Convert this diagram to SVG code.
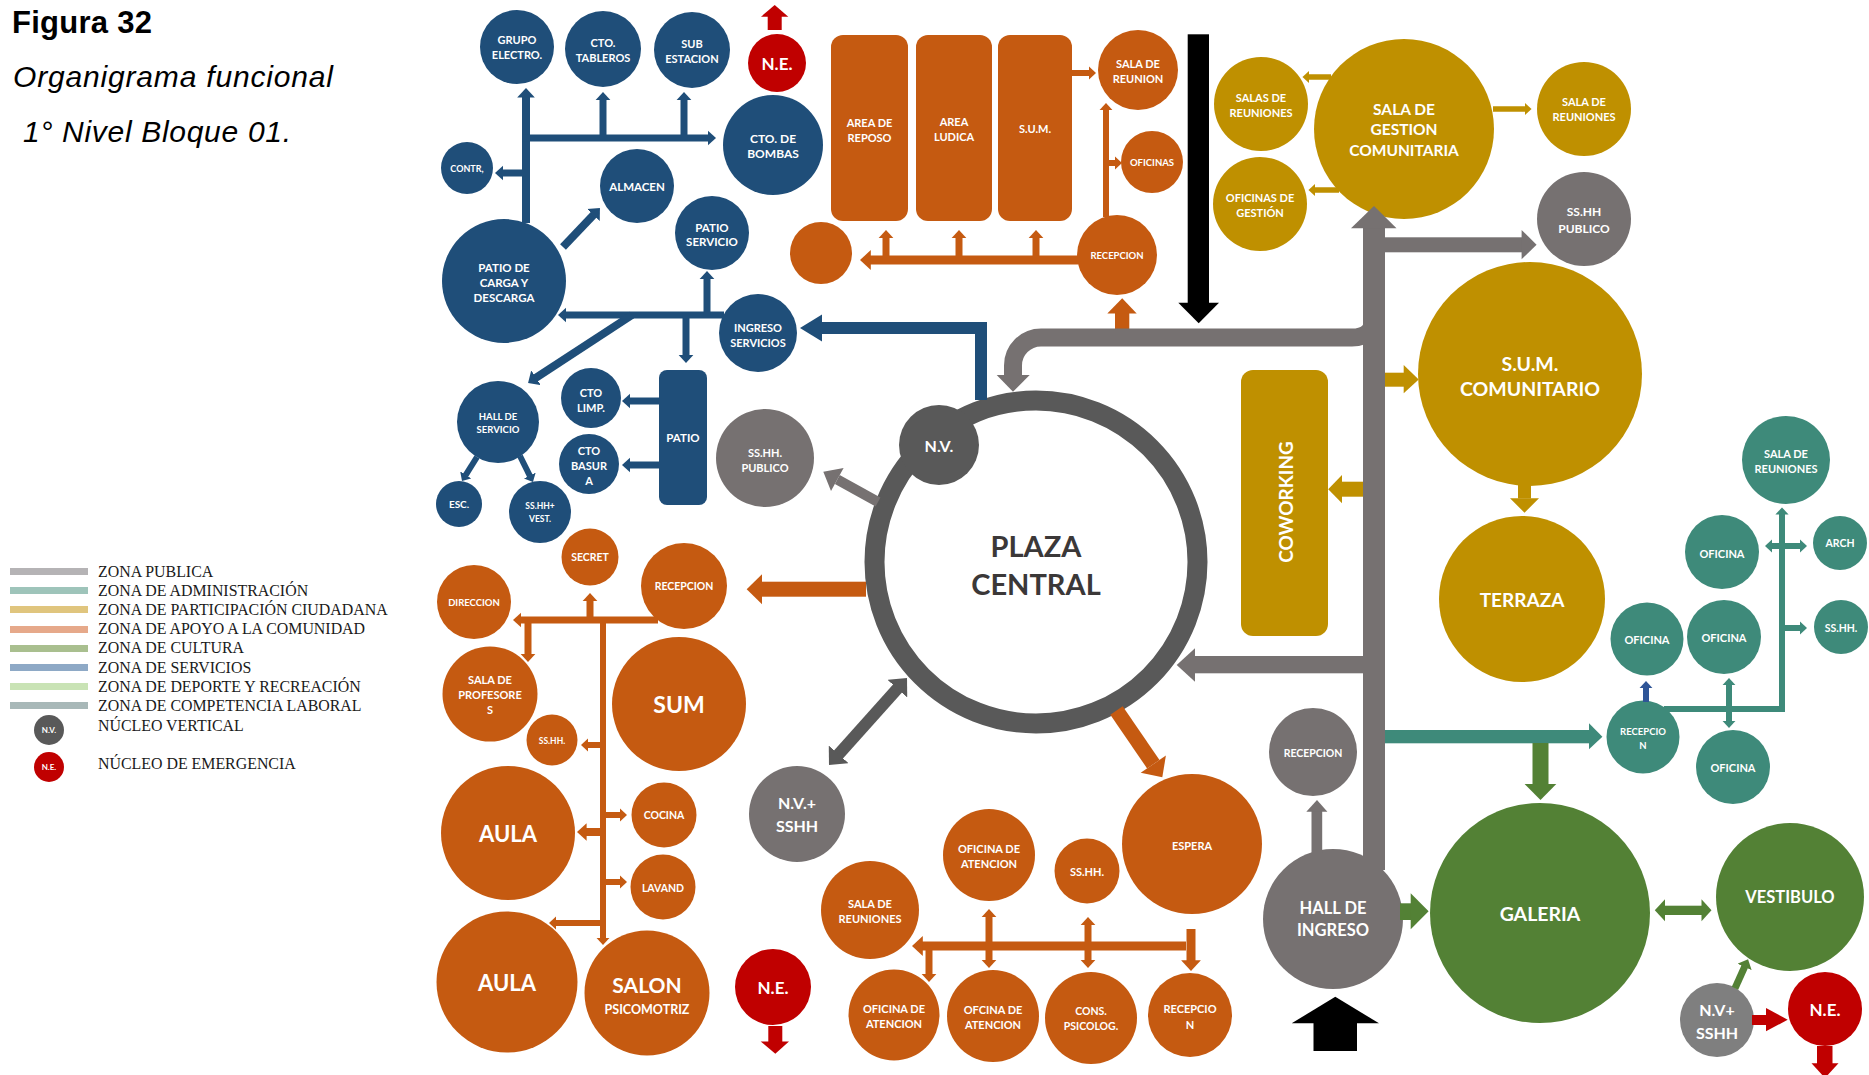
<svg xmlns="http://www.w3.org/2000/svg" width="1869" height="1075" viewBox="0 0 1869 1075">
<style>
.b{fill:#1F4E79}.o{fill:#C55A11}.y{fill:#BF9000}.t{fill:#3E8A7A}.g{fill:#538135}.gr{fill:#767171}.dg{fill:#595959}.r{fill:#C00000}.lg{fill:#7F7F7F}.k{fill:#000}
.l{font-family:Lato,"Open Sans","Liberation Sans",sans-serif;font-weight:700;fill:#fff;text-anchor:middle;dominant-baseline:central}
.sb{stroke:#1F4E79;fill:none}.so{stroke:#C55A11;fill:none}.sy{stroke:#BF9000;fill:none}.st{stroke:#3E8A7A;fill:none}.sg{stroke:#538135;fill:none}.sgr{stroke:#767171;fill:none}.sdg{stroke:#595959;fill:none}.snb{stroke:#2F5597;fill:none}
.lgd{font-family:"Liberation Serif","Times New Roman",serif;font-size:15.9px;fill:#1a1a1a}
.ttl{font-family:"Liberation Sans",Arial,sans-serif;fill:#000}
</style>
<defs>
<marker id="mB" viewBox="0 0 12 22" refX="1" refY="11" markerWidth="1.2" markerHeight="2.2" markerUnits="strokeWidth" orient="auto-start-reverse"><path d="M0,0L12,11L0,22z" fill="#1F4E79"/></marker>
<marker id="mO" viewBox="0 0 12 22" refX="1" refY="11" markerWidth="1.2" markerHeight="2.2" markerUnits="strokeWidth" orient="auto-start-reverse"><path d="M0,0L12,11L0,22z" fill="#C55A11"/></marker>
<marker id="mY" viewBox="0 0 12 22" refX="1" refY="11" markerWidth="1.2" markerHeight="2.2" markerUnits="strokeWidth" orient="auto-start-reverse"><path d="M0,0L12,11L0,22z" fill="#BF9000"/></marker>
<marker id="mT" viewBox="0 0 12 22" refX="1" refY="11" markerWidth="1.2" markerHeight="2.2" markerUnits="strokeWidth" orient="auto-start-reverse"><path d="M0,0L12,11L0,22z" fill="#3E8A7A"/></marker>
<marker id="mG" viewBox="0 0 12 22" refX="1" refY="11" markerWidth="1.2" markerHeight="2.2" markerUnits="strokeWidth" orient="auto-start-reverse"><path d="M0,0L12,11L0,22z" fill="#538135"/></marker>
<marker id="mDg" viewBox="0 0 12 22" refX="1" refY="11" markerWidth="1.2" markerHeight="2.2" markerUnits="strokeWidth" orient="auto-start-reverse"><path d="M0,0L12,11L0,22z" fill="#595959"/></marker>
<marker id="mNb" viewBox="0 0 12 22" refX="1" refY="11" markerWidth="1.2" markerHeight="2.2" markerUnits="strokeWidth" orient="auto-start-reverse"><path d="M0,0L12,11L0,22z" fill="#2F5597"/></marker>
</defs>

<g id="title">
<text class="ttl" x="12" y="33" font-size="31" font-weight="700" textLength="140">Figura 32</text>
<text class="ttl" x="13" y="87" font-size="30" font-style="italic" textLength="320">Organigrama funcional</text>
<text class="ttl" x="23" y="142" font-size="30" font-style="italic" textLength="268">1° Nivel Bloque 01.</text>
</g>

<g id="legend">
<rect x="10" y="568" width="78" height="7" fill="#B5B3B5"/>
<rect x="10" y="587" width="78" height="7" fill="#9EC4BA"/>
<rect x="10" y="606" width="78" height="7" fill="#E0C57E"/>
<rect x="10" y="626" width="78" height="7" fill="#E6A98A"/>
<rect x="10" y="645" width="78" height="7" fill="#A9BF8F"/>
<rect x="10" y="664" width="78" height="7" fill="#8EA9C6"/>
<rect x="10" y="683" width="78" height="7" fill="#C9E3B5"/>
<rect x="10" y="702" width="78" height="7" fill="#A8B8B8"/>
<text class="lgd" x="98" y="577">ZONA PUBLICA</text>
<text class="lgd" x="98" y="596">ZONA DE ADMINISTRACIÓN</text>
<text class="lgd" x="98" y="615">ZONA DE PARTICIPACIÓN CIUDADANA</text>
<text class="lgd" x="98" y="634">ZONA DE APOYO A LA COMUNIDAD</text>
<text class="lgd" x="98" y="653">ZONA DE CULTURA</text>
<text class="lgd" x="98" y="673">ZONA DE SERVICIOS</text>
<text class="lgd" x="98" y="692">ZONA DE DEPORTE Y RECREACIÓN</text>
<text class="lgd" x="98" y="711">ZONA DE COMPETENCIA LABORAL</text>
<circle class="dg" cx="49" cy="730" r="15"/>
<text class="l" x="49" y="730" font-size="8">N.V.</text>
<text class="lgd" x="98" y="730.5">NÚCLEO VERTICAL</text>
<circle class="r" cx="49" cy="767" r="15"/>
<text class="l" x="49" y="767" font-size="8">N.E.</text>
<text class="lgd" x="98" y="768.5">NÚCLEO DE EMERGENCIA</text>
</g>

<!-- SERVICIOS (blue) -->
<g id="grupo-electro"><circle class="b" cx="517" cy="47" r="37"/><text class="l" font-size="11"><tspan x="517" y="39">GRUPO</tspan><tspan x="517" y="54">ELECTRO.</tspan></text></g>
<g id="cto-tableros"><circle class="b" cx="603" cy="49" r="38"/><text class="l" font-size="11"><tspan x="603" y="41.5">CTO.</tspan><tspan x="603" y="56.5">TABLEROS</tspan></text></g>
<g id="sub-estacion"><circle class="b" cx="692" cy="50" r="38"/><text class="l" font-size="11"><tspan x="692" y="42.5">SUB</tspan><tspan x="692" y="57.5">ESTACION</tspan></text></g>
<g id="cto-bombas"><circle class="b" cx="773" cy="145" r="50"/><text class="l" font-size="12"><tspan x="773" y="137.5">CTO. DE</tspan><tspan x="773" y="152.5">BOMBAS</tspan></text></g>
<g id="contr"><circle class="b" cx="467" cy="168" r="26"/><text class="l" x="467" y="168" font-size="9">CONTR,</text></g>
<g id="almacen"><circle class="b" cx="637" cy="186" r="37"/><text class="l" x="637" y="186" font-size="11.5">ALMACEN</text></g>
<g id="patio-servicio"><circle class="b" cx="712" cy="233" r="37"/><text class="l" font-size="11.5"><tspan x="712" y="226.5">PATIO</tspan><tspan x="712" y="241">SERVICIO</tspan></text></g>
<g id="patio-carga"><circle class="b" cx="504" cy="281" r="62"/><text class="l" font-size="11.5"><tspan x="504" y="266.5">PATIO DE</tspan><tspan x="504" y="281.5">CARGA Y</tspan><tspan x="504" y="296.5">DESCARGA</tspan></text></g>
<g id="ingreso-servicios"><circle class="b" cx="758" cy="333" r="39"/><text class="l" font-size="11"><tspan x="758" y="326.5">INGRESO</tspan><tspan x="758" y="341.5">SERVICIOS</tspan></text></g>
<g id="hall-servicio"><circle class="b" cx="498" cy="422" r="41"/><text class="l" font-size="9.5"><tspan x="498" y="415.5">HALL DE</tspan><tspan x="498" y="428.5">SERVICIO</tspan></text></g>
<g id="esc"><circle class="b" cx="459" cy="504" r="23"/><text class="l" x="459" y="504" font-size="10">ESC.</text></g>
<g id="sshh-vest"><circle class="b" cx="540" cy="512" r="31"/><text class="l" font-size="8.5"><tspan x="540" y="506">SS.HH+</tspan><tspan x="540" y="519">VEST.</tspan></text></g>
<g id="cto-limp"><circle class="b" cx="591" cy="398" r="30"/><text class="l" font-size="11"><tspan x="591" y="391.5">CTO</tspan><tspan x="591" y="406.5">LIMP.</tspan></text></g>
<g id="cto-basura"><circle class="b" cx="589" cy="464" r="30"/><text class="l" font-size="11"><tspan x="589" y="450">CTO</tspan><tspan x="589" y="465">BASUR</tspan><tspan x="589" y="480">A</tspan></text></g>
<g id="patio"><rect class="b" x="659" y="370" width="48" height="135" rx="8"/><text class="l" x="683" y="437.5" font-size="11.5">PATIO</text></g>

<g id="ne-top"><circle class="r" cx="777" cy="63" r="29"/><text class="l" x="777" y="63" font-size="17">N.E.</text></g>

<!-- APOYO A LA COMUNIDAD (orange) top -->
<g id="area-reposo"><rect class="o" x="831" y="35" width="77" height="186" rx="12"/><text class="l" font-size="11"><tspan x="869.5" y="121.5">AREA DE</tspan><tspan x="869.5" y="136.5">REPOSO</tspan></text></g>
<g id="area-ludica"><rect class="o" x="916" y="35" width="76" height="186" rx="12"/><text class="l" font-size="11"><tspan x="954" y="120.5">AREA</tspan><tspan x="954" y="135.5">LUDICA</tspan></text></g>
<g id="sum-top"><rect class="o" x="998" y="35" width="74" height="186" rx="12"/><text class="l" x="1035" y="128.5" font-size="11">S.U.M.</text></g>
<g id="sala-reunion"><circle class="o" cx="1138" cy="70" r="40"/><text class="l" font-size="11"><tspan x="1138" y="63">SALA DE</tspan><tspan x="1138" y="78">REUNION</tspan></text></g>
<g id="oficinas"><circle class="o" cx="1152" cy="162" r="31"/><text class="l" x="1152" y="162" font-size="9.5">OFICINAS</text></g>
<g id="recepcion-top"><circle class="o" cx="1117" cy="255" r="40"/><text class="l" x="1117" y="255" font-size="9.5">RECEPCION</text></g>
<g id="circulo-naranja"><circle class="o" cx="821" cy="253" r="31"/></g>

<!-- orange left -->
<g id="secret"><circle class="o" cx="590" cy="557" r="28.5"/><text class="l" x="590" y="557" font-size="10.5">SECRET</text></g>
<g id="recepcion-left"><circle class="o" cx="684" cy="586" r="43"/><text class="l" x="684" y="586" font-size="10.5">RECEPCION</text></g>
<g id="direccion"><circle class="o" cx="474" cy="602" r="37"/><text class="l" x="474" y="602" font-size="9.5">DIRECCION</text></g>
<g id="sala-profesores"><circle class="o" cx="490" cy="694" r="47.5"/><text class="l" font-size="11"><tspan x="490" y="679">SALA DE</tspan><tspan x="490" y="694">PROFESORE</tspan><tspan x="490" y="709">S</tspan></text></g>
<g id="sshh-left"><circle class="o" cx="552" cy="740" r="25.5"/><text class="l" x="552" y="740.5" font-size="8.5">SS.HH.</text></g>
<g id="sum-left"><circle class="o" cx="679" cy="704" r="67"/><text class="l" x="679" y="704" font-size="23">SUM</text></g>
<g id="cocina"><circle class="o" cx="664" cy="815" r="32.5"/><text class="l" x="664" y="815" font-size="10.5">COCINA</text></g>
<g id="lavand"><circle class="o" cx="663" cy="887" r="32.5"/><text class="l" x="663" y="887.5" font-size="10.5">LAVAND</text></g>
<g id="aula-1"><circle class="o" cx="508" cy="833" r="67"/><text class="l" x="508" y="833" font-size="22">AULA</text></g>
<g id="aula-2"><circle class="o" cx="507" cy="982" r="70.5"/><text class="l" x="507" y="982" font-size="22">AULA</text></g>
<g id="salon"><circle class="o" cx="647" cy="993" r="62.5"/><text class="l"><tspan x="647" y="984" font-size="21">SALON</tspan><tspan x="647" y="1008.5" font-size="12.5">PSICOMOTRIZ</tspan></text></g>
<g id="ne-left"><circle class="r" cx="773" cy="987" r="38"/><text class="l" x="773" y="987" font-size="17">N.E.</text></g>
<g id="nv-sshh-left"><circle class="gr" cx="797" cy="814" r="48"/><text class="l" font-size="16"><tspan x="797" y="802">N.V.+</tspan><tspan x="797" y="825">SSHH</tspan></text></g>

<!-- orange bottom -->
<g id="oficina-atencion-top"><circle class="o" cx="989" cy="855" r="46"/><text class="l" font-size="11"><tspan x="989" y="847.5">OFICINA DE</tspan><tspan x="989" y="863">ATENCION</tspan></text></g>
<g id="sshh-bottom"><circle class="o" cx="1087" cy="871" r="32.5"/><text class="l" x="1087" y="871.5" font-size="11">SS.HH.</text></g>
<g id="espera"><circle class="o" cx="1192" cy="844" r="70"/><text class="l" x="1192" y="845" font-size="11">ESPERA</text></g>
<g id="sala-reuniones-bottom"><circle class="o" cx="870" cy="910" r="49"/><text class="l" font-size="11"><tspan x="870" y="902.5">SALA DE</tspan><tspan x="870" y="917.5">REUNIONES</tspan></text></g>
<g id="oficina-atencion-1"><circle class="o" cx="894" cy="1015" r="45.5"/><text class="l" font-size="11"><tspan x="894" y="1007.5">OFICINA DE</tspan><tspan x="894" y="1022.5">ATENCION</tspan></text></g>
<g id="oficina-atencion-2"><circle class="o" cx="993" cy="1016" r="46"/><text class="l" font-size="11"><tspan x="993" y="1008.5">OFCINA DE</tspan><tspan x="993" y="1023.5">ATENCION</tspan></text></g>
<g id="cons-psicolog"><circle class="o" cx="1091" cy="1018" r="46"/><text class="l" font-size="10.5"><tspan x="1091" y="1011">CONS.</tspan><tspan x="1091" y="1026">PSICOLOG.</tspan></text></g>
<g id="recepcion-bottom"><circle class="o" cx="1190" cy="1015" r="42"/><text class="l" font-size="11"><tspan x="1190" y="1008">RECEPCIO</tspan><tspan x="1190" y="1023.5">N</tspan></text></g>

<!-- PARTICIPACION (gold) -->
<g id="salas-reuniones"><circle class="y" cx="1261" cy="104" r="47"/><text class="l" font-size="11"><tspan x="1261" y="96.5">SALAS DE</tspan><tspan x="1261" y="111.5">REUNIONES</tspan></text></g>
<g id="oficinas-gestion"><circle class="y" cx="1260" cy="204" r="47"/><text class="l" font-size="11"><tspan x="1260" y="196.5">OFICINAS DE</tspan><tspan x="1260" y="211.5">GESTIÓN</tspan></text></g>
<g id="sala-gestion"><circle class="y" cx="1404" cy="129" r="90"/><text class="l" font-size="15.5"><tspan x="1404" y="108.5">SALA DE</tspan><tspan x="1404" y="129.3">GESTION</tspan><tspan x="1404" y="150">COMUNITARIA</tspan></text></g>
<g id="sala-reuniones-right"><circle class="y" cx="1584" cy="109" r="47"/><text class="l" font-size="11"><tspan x="1584" y="101">SALA DE</tspan><tspan x="1584" y="116">REUNIONES</tspan></text></g>
<g id="sshh-publico-right"><circle class="gr" cx="1584" cy="219" r="47"/><text class="l" font-size="12"><tspan x="1584" y="211">SS.HH</tspan><tspan x="1584" y="227.5">PUBLICO</tspan></text></g>
<g id="sum-comunitario"><circle class="y" cx="1530" cy="374" r="112"/><text class="l" font-size="19.5"><tspan x="1530" y="362.5">S.U.M.</tspan><tspan x="1530" y="388">COMUNITARIO</tspan></text></g>
<g id="coworking"><rect class="y" x="1241" y="370" width="87" height="266" rx="12"/><text class="l" x="1285" y="502" font-size="19" transform="rotate(-90 1285 502)">COWORKING</text></g>
<g id="terraza"><circle class="y" cx="1522" cy="599" r="83"/><text class="l" x="1522" y="599" font-size="19">TERRAZA</text></g>

<!-- ADMINISTRACION (teal) -->
<g id="sala-reuniones-admin"><circle class="t" cx="1786" cy="460" r="44"/><text class="l" font-size="11"><tspan x="1786" y="452.5">SALA DE</tspan><tspan x="1786" y="467.5">REUNIONES</tspan></text></g>
<g id="oficina-a1"><circle class="t" cx="1722" cy="552" r="37"/><text class="l" x="1722" y="553" font-size="11">OFICINA</text></g>
<g id="arch"><circle class="t" cx="1840" cy="543" r="27"/><text class="l" x="1840" y="543" font-size="10.5">ARCH</text></g>
<g id="oficina-a2"><circle class="t" cx="1647" cy="639" r="36.5"/><text class="l" x="1647" y="639" font-size="11">OFICINA</text></g>
<g id="oficina-a3"><circle class="t" cx="1724" cy="637" r="37"/><text class="l" x="1724" y="637.5" font-size="11">OFICINA</text></g>
<g id="sshh-admin"><circle class="t" cx="1841" cy="627" r="27"/><text class="l" x="1841" y="627.5" font-size="10.5">SS.HH.</text></g>
<g id="recepcion-admin"><circle class="t" cx="1643" cy="737" r="36.5"/><text class="l" font-size="9.5"><tspan x="1643" y="731">RECEPCIO</tspan><tspan x="1643" y="744.5">N</tspan></text></g>
<g id="oficina-a4"><circle class="t" cx="1733" cy="767" r="37"/><text class="l" x="1733" y="767" font-size="11">OFICINA</text></g>

<!-- PUBLICA / CULTURA -->
<g id="recepcion-publica"><circle class="gr" cx="1313" cy="752" r="44"/><text class="l" x="1313" y="752.5" font-size="10.5">RECEPCION</text></g>
<g id="hall-ingreso"><circle class="gr" cx="1333" cy="919" r="70"/><text class="l" font-size="16.5"><tspan x="1333" y="908">HALL DE</tspan><tspan x="1333" y="930">INGRESO</tspan></text></g>
<g id="galeria"><circle class="g" cx="1540" cy="913" r="110"/><text class="l" x="1540" y="913.5" font-size="19.5">GALERIA</text></g>
<g id="vestibulo"><circle class="g" cx="1790" cy="897" r="74"/><text class="l" x="1790" y="897" font-size="16.5">VESTIBULO</text></g>
<g id="nv-sshh-right"><circle class="lg" cx="1717" cy="1020" r="37"/><text class="l" font-size="16"><tspan x="1717" y="1009">N.V+</tspan><tspan x="1717" y="1031.5">SSHH</tspan></text></g>
<g id="ne-right"><circle class="r" cx="1825" cy="1009" r="37"/><text class="l" x="1825" y="1009" font-size="17">N.E.</text></g>

<g id="sshh-publico-left"><circle class="gr" cx="765" cy="458" r="49"/><text class="l" font-size="11"><tspan x="765" y="451.5">SS.HH.</tspan><tspan x="765" y="466.5">PUBLICO</tspan></text></g>

<g id="plaza-central"><circle cx="1036" cy="562" r="161.5" fill="#fff" stroke="#595959" stroke-width="20"/><text class="l" font-size="29" style="fill:#3B3838"><tspan x="1036" y="545">PLAZA</tspan><tspan x="1036" y="583">CENTRAL</tspan></text></g>
<g id="nv-plaza"><circle class="dg" cx="939" cy="445" r="40"/><text class="l" x="939" y="445" font-size="16">N.V.</text></g>

<g id="connectors">
<!-- blue -->
<line class="sb" x1="526" y1="223" x2="526" y2="96.8" stroke-width="8" marker-end="url(#mB)"/>
<line class="sb" x1="522" y1="138" x2="708.3" y2="138" stroke-width="7" marker-end="url(#mB)"/>
<line class="sb" x1="603" y1="138" x2="603" y2="99.7" stroke-width="7" marker-end="url(#mB)"/>
<line class="sb" x1="684" y1="138" x2="684" y2="99.7" stroke-width="7" marker-end="url(#mB)"/>
<line class="sb" x1="526" y1="173" x2="502.7" y2="173" stroke-width="7" marker-end="url(#mB)"/>
<line class="sb" x1="563" y1="247" x2="593.9" y2="214.4" stroke-width="8" marker-end="url(#mB)"/>
<line class="sb" x1="724" y1="315" x2="565.7" y2="315" stroke-width="7" marker-end="url(#mB)"/>
<line class="sb" x1="707" y1="315" x2="707" y2="278.7" stroke-width="7" marker-end="url(#mB)"/>
<line class="sb" x1="686" y1="315" x2="686" y2="355.3" stroke-width="7" marker-end="url(#mB)"/>
<line class="sb" x1="632" y1="315" x2="535.4" y2="378.2" stroke-width="8" marker-end="url(#mB)"/>
<line class="sb" x1="659" y1="401" x2="629.7" y2="401" stroke-width="7" marker-end="url(#mB)"/>
<line class="sb" x1="659" y1="465" x2="629.7" y2="465" stroke-width="7" marker-end="url(#mB)"/>
<line class="sb" x1="477" y1="457" x2="465.5" y2="475.4" stroke-width="6" marker-end="url(#mB)"/>
<line class="sb" x1="520" y1="456" x2="530" y2="476.1" stroke-width="6" marker-end="url(#mB)"/>
<polyline class="sb" points="981,400 981,328 821,328" stroke-width="12"/>
<polygon class="b" points="822,314.5 800,328 822,341.5"/>
<!-- orange top -->
<line class="so" x1="1078" y1="260" x2="869.9" y2="260" stroke-width="9" marker-end="url(#mO)"/>
<line class="so" x1="886" y1="260" x2="886" y2="237.7" stroke-width="7" marker-end="url(#mO)"/>
<line class="so" x1="959" y1="260" x2="959" y2="237.7" stroke-width="7" marker-end="url(#mO)"/>
<line class="so" x1="1036" y1="260" x2="1036" y2="237.7" stroke-width="7" marker-end="url(#mO)"/>
<line class="so" x1="1106" y1="217" x2="1106" y2="109.6" stroke-width="6" marker-end="url(#mO)"/>
<line class="so" x1="1106" y1="163" x2="1115.4" y2="163" stroke-width="6" marker-end="url(#mO)"/>
<line class="so" x1="1072" y1="73" x2="1089.4" y2="73" stroke-width="6" marker-end="url(#mO)"/>
<rect class="o" x="1115" y="313" width="14.3" height="21"/>
<polygon class="o" points="1107.3,313.5 1122.2,298.3 1136.7,313.5"/>
<!-- orange left -->
<rect class="o" x="761" y="581.7" width="105" height="15"/>
<polygon class="o" points="762,574.3 746.7,589.2 762,604.3"/>
<line class="so" x1="658" y1="620" x2="520.7" y2="620" stroke-width="7" marker-end="url(#mO)"/>
<line class="so" x1="590" y1="620" x2="590" y2="600.7" stroke-width="7" marker-end="url(#mO)"/>
<line class="so" x1="528" y1="620" x2="528" y2="654.3" stroke-width="7" marker-end="url(#mO)"/>
<line class="so" x1="603" y1="617" x2="603" y2="938.4" stroke-width="6" marker-end="url(#mO)"/>
<line class="so" x1="603" y1="745" x2="587.6" y2="745" stroke-width="6" marker-end="url(#mO)"/>
<line class="so" x1="603" y1="832" x2="585.8" y2="832" stroke-width="8" marker-end="url(#mO)"/>
<line class="so" x1="603" y1="815" x2="620.4" y2="815" stroke-width="6" marker-end="url(#mO)"/>
<line class="so" x1="603" y1="882" x2="620.4" y2="882" stroke-width="6" marker-end="url(#mO)"/>
<line class="so" x1="603" y1="923" x2="555.6" y2="923" stroke-width="6" marker-end="url(#mO)"/>
<!-- orange bottom -->
<line class="so" x1="1116.5" y1="710.6" x2="1153.3" y2="764.2" stroke-width="15"/>
<polygon class="o" points="1165.9,755.6 1162.3,777.3 1140.7,772.8"/>
<line class="so" x1="1186" y1="946" x2="921.9" y2="946" stroke-width="9" marker-end="url(#mO)"/>
<line class="so" x1="989" y1="916.7" x2="989" y2="960.3" stroke-width="7" marker-start="url(#mO)" marker-end="url(#mO)"/>
<line class="so" x1="1088" y1="924.7" x2="1088" y2="960.3" stroke-width="7" marker-start="url(#mO)" marker-end="url(#mO)"/>
<line class="so" x1="929" y1="946" x2="929" y2="974.3" stroke-width="7" marker-end="url(#mO)"/>
<line class="so" x1="1191" y1="929" x2="1191" y2="961.1" stroke-width="9" marker-end="url(#mO)"/>
<!-- gold -->
<line class="sy" x1="1331" y1="77" x2="1308.5" y2="77" stroke-width="5.5" marker-end="url(#mY)"/>
<line class="sy" x1="1339" y1="190" x2="1314.5" y2="190" stroke-width="5.5" marker-end="url(#mY)"/>
<line class="sy" x1="1493" y1="109" x2="1525.5" y2="109" stroke-width="5.5" marker-end="url(#mY)"/>
<rect class="y" x="1385" y="372.7" width="19" height="14"/>
<polygon class="y" points="1403.7,365 1418.7,379.5 1403.7,393.3"/>
<rect class="y" x="1342" y="481.7" width="21" height="15"/>
<polygon class="y" points="1342,475 1328.2,489.2 1342,503.3"/>
<rect class="y" x="1518" y="485" width="13" height="13.5"/>
<polygon class="y" points="1510,498.3 1524.5,512.7 1539,498.3"/>
<!-- gray public -->
<path class="sgr" d="M1374,316 Q1374,337.5 1352,337.5 H1041 A28,28 0 0 0 1013,365.5 V376" stroke-width="18"/>
<polygon class="gr" points="996.7,375 1013,391.7 1029.7,375"/>
<rect class="gr" x="1363" y="227" width="22" height="643"/>
<polygon class="gr" points="1351,228.3 1374,206 1396.5,228.3"/>
<rect class="gr" x="1384" y="237.3" width="138" height="15"/>
<polygon class="gr" points="1521.6,230 1536.6,244.8 1521.6,259.3"/>
<rect class="gr" x="1194" y="656" width="170" height="17.3"/>
<polygon class="gr" points="1195,648.3 1176.7,665 1195,681.7"/>
<rect class="gr" x="1311.5" y="811" width="10.7" height="42"/>
<polygon class="gr" points="1306.3,811.7 1317,800 1327.4,811.7"/>
<line class="sgr" x1="878" y1="502" x2="837.3" y2="479.5" stroke-width="10"/>
<polygon class="gr" points="843.6,468.1 823.3,471.7 831,490.9"/>
<line class="sdg" x1="898.2" y1="687.8" x2="837.8" y2="755.2" stroke-width="12" marker-start="url(#mDg)" marker-end="url(#mDg)"/>
<!-- teal -->
<rect class="t" x="1385" y="730" width="205" height="13.3"/>
<polygon class="t" points="1589,723.3 1602.4,736.7 1589,749.3"/>
<line class="st" x1="1664" y1="709" x2="1785" y2="709" stroke-width="6"/>
<line class="st" x1="1782" y1="712" x2="1782" y2="514" stroke-width="6" marker-end="url(#mT)"/>
<line class="st" x1="1771.6" y1="546" x2="1800.4" y2="546" stroke-width="6" marker-start="url(#mT)" marker-end="url(#mT)"/>
<line class="st" x1="1782" y1="628" x2="1800.4" y2="628" stroke-width="6" marker-end="url(#mT)"/>
<line class="st" x1="1729" y1="684.6" x2="1729" y2="721.4" stroke-width="6" marker-start="url(#mT)" marker-end="url(#mT)"/>
<line class="snb" x1="1646" y1="702" x2="1646" y2="687.6" stroke-width="6" marker-end="url(#mNb)"/>
<!-- green -->
<rect class="g" x="1532.5" y="743" width="16" height="42"/>
<polygon class="g" points="1524.6,784 1540.5,800 1556.3,784"/>
<rect class="g" x="1400" y="903.3" width="11.5" height="16.7"/>
<polygon class="g" points="1410.7,893.3 1428.6,911.3 1410.7,929.3"/>
<rect class="g" x="1664" y="905.7" width="38" height="9.3"/>
<polygon class="g" points="1665,899.3 1654.8,910.3 1665,921.3"/>
<polygon class="g" points="1701.5,899.3 1711.5,910.3 1701.5,921.3"/>
<line class="sg" x1="1735" y1="988.3" x2="1744.9" y2="966.3" stroke-width="7" marker-end="url(#mG)"/>
<!-- red -->
<rect class="r" x="767.7" y="16" width="14" height="14"/>
<polygon class="r" points="761,16.7 774.7,5 788.3,16.7"/>
<rect class="r" x="768.3" y="1026" width="14" height="16"/>
<polygon class="r" points="760.7,1041.4 775.3,1053.8 789,1041.4"/>
<rect class="r" x="1752" y="1015" width="15" height="10"/>
<polygon class="r" points="1766,1008 1787.7,1019.7 1766,1031.3"/>
<rect class="r" x="1817" y="1046" width="15.5" height="18"/>
<polygon class="r" points="1811.5,1063.3 1825,1078 1838.5,1063.3"/>
<!-- black -->
<rect class="k" x="1187.7" y="34.3" width="21.3" height="269"/>
<polygon class="k" points="1178.3,302.7 1198.7,323.3 1219,302.7"/>
<polygon class="k" points="1291.7,1023.3 1335.3,996.7 1379,1023.3"/>
<rect class="k" x="1313.5" y="1022.5" width="43.5" height="28.5"/>
</g>
</svg>
